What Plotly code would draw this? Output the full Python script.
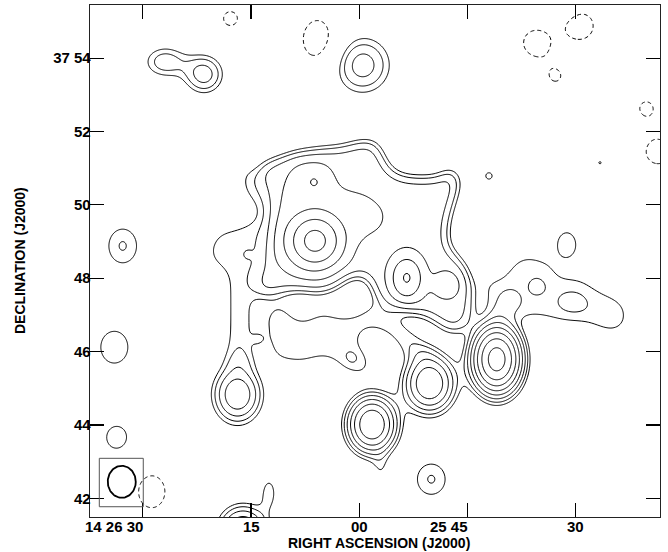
import numpy as np
import plotly.graph_objects as go

# ---------------------------------------------------------------------------
# Data read from the map.
# RA axis: seconds of time west of 14h26m30s ; Dec axis: arcmin above +37 deg
# ---------------------------------------------------------------------------
# discrete (Gaussian) components: position, peak (units of first contour), sigma_x/sigma_y (arcsec)
src_ra  = [49.03, 39.72, 31.76, 13.13, 30.42, 8.49, 3.09, -2.77, -3.93, -3.60, 39.97, 58.73,
           13.89, 17.49, 57.80, 63.34, 47.96, 33.00]
src_dec = [45.79, 45.13, 44.01, 44.83, 53.81, 53.56, 53.90, 48.88, 46.12, 43.66, 42.52, 48.91,
           41.14, 42.17, 55.73, 51.15, 50.79, 42.77]
src_amp = [13.3, 5.6, 7.9, 3.8, 2.35, 2.35, 1.75, 1.45, 1.37, 1.25, 1.45, 1.25,
           4.0, 1.2, 1.3, 1.02, 1.08, 0.75]
src_sx  = [24.0, 26.2, 24.5, 26.2, 33.7, 22.9, 26.2, 26.2, 27.8, 24.5, 26.2, 22.0,
           26.2, 11.5, 19.6, 9.8, 13.1, 11.5]
src_sy  = [33.2, 30.3, 28.6, 31.1, 34.0, 22.9, 19.6, 31.9, 32.7, 27.0, 28.6, 29.5,
           26.2, 22.9, 19.6, 9.8, 13.1, 19.6]

# knots riding on the diffuse emission
knot_ra  = [23.86, 23.73, 36.57, 42.15, 54.57, 59.60, 50.87, 28.99, 16.04, 14.54]
knot_dec = [49.02, 50.63, 48.01, 47.82, 47.77, 47.30, 47.41, 45.83, 46.34, 48.65]
knot_amp = [6.0, 0.95, 3.4, 1.2, 0.22, 0.25, 0.3, 0.25, 0.6, 0.1]
knot_sx  = [26.8, 16.4, 18.0, 16.4, 11.5, 19.6, 11.5, 8.2, 8.2, 6.5]
knot_sy  = [26.8, 16.4, 24.5, 16.4, 11.5, 16.4, 11.5, 8.2, 8.2, 6.5]

# negative (dashed) components
neg_ra  = [24.28, 12.16, 54.43, 60.57, 57.20, 69.75, 71.37, 1.25]
neg_dec = [54.50, 55.08, 54.42, 54.88, 53.50, 52.64, 51.44, 42.18]
neg_amp = [-1.5, -1.15, -1.4, -1.4, -1.05, -1.1, -1.3, -1.4]
neg_sx  = [27.3, 21.3, 23.9, 26.2, 21.0, 22.4, 26.2, 26.2]
neg_sy  = [36.0, 21.3, 23.9, 26.2, 21.0, 22.4, 26.2, 31.9]

# diffuse emission outlines (RA s, Dec arcmin) and plateau levels
main_ra  = [15.83, 16.52, 18.46, 21.51, 24.28, 27.60, 30.37, 32.31, 33.42, 34.25, 36.05, 40.76,
            42.42, 43.67, 43.95, 42.98, 42.29, 42.29, 43.53, 44.92, 45.61, 45.61, 44.64, 42.84,
            41.18, 39.52, 37.71, 33.98, 32.04, 31.48, 30.37, 28.02, 26.91, 25.25, 23.86, 22.06,
            19.29, 17.08, 15.83, 15.97, 17.08, 17.63, 18.19, 18.32, 17.35]
main_dec = [50.95, 51.14, 51.28, 51.47, 51.55, 51.61, 51.77, 51.77, 51.33, 50.98, 50.79, 50.76,
            51.01, 50.93, 50.52, 49.94, 49.40, 48.91, 48.63, 48.31, 47.82, 47.08, 46.64, 46.48,
            46.70, 46.92, 47.05, 47.22, 47.49, 47.87, 48.09, 47.93, 47.71, 47.60, 47.57, 47.65,
            47.60, 47.46, 47.49, 47.90, 48.36, 48.83, 49.45, 49.94, 50.46]
core_ra  = [20.96, 25.66, 27.19, 31.20, 33.84, 33.56, 28.99, 28.43, 24.56, 21.51, 18.05, 17.91,
            18.32, 19.57]
core_dec = [51.23, 51.14, 50.49, 50.33, 49.89, 49.34, 48.93, 48.44, 48.03, 48.06, 48.47, 49.10,
            49.92, 50.73]
west_ra  = [13.20, 15.97, 17.35, 18.46, 18.60, 17.91, 17.35, 16.25, 15.42, 15.28, 15.42, 11.54,
            11.54, 11.54, 11.40, 9.04, 8.77, 10.15, 13.20, 15.28, 15.97, 15.28, 13.61]
west_dec = [51.14, 50.90, 50.54, 50.00, 49.53, 48.91, 48.44, 47.95, 47.52, 46.59, 45.55, 45.55,
            46.59, 47.73, 48.12, 48.44, 48.85, 49.32, 49.45, 49.62, 49.78, 49.97, 50.33]
tongue_ra  = [17.35, 19.71, 21.23, 22.48, 23.86, 25.39, 27.19, 29.27, 31.34, 33.42, 35.78, 37.85,
              38.96, 40.35, 39.52, 37.30, 35.36, 33.70, 32.04, 30.37, 29.82, 31.07, 32.04, 31.62,
              29.68, 27.74, 26.77, 25.66, 24.00, 22.20, 20.40, 18.74, 17.63, 16.94, 16.66]
tongue_dec = [47.24, 47.35, 46.94, 46.89, 47.11, 47.16, 47.00, 47.03, 47.30, 47.27, 46.86, 46.56,
              46.18, 46.04, 45.72, 45.83, 46.10, 46.43, 46.59, 46.51, 46.32, 46.04, 45.72, 45.36,
              45.31, 45.42, 45.61, 45.80, 45.74, 45.61, 45.66, 45.69, 45.91, 46.51, 46.97]
east_ra  = [46.72, 49.49, 51.29, 53.23, 55.72, 57.80, 60.98, 63.75, 65.83, 67.49, 67.63, 65.97,
            64.03, 61.26, 57.80, 55.03, 52.26, 48.10]
east_dec = [48.03, 48.06, 48.58, 48.74, 48.55, 47.98, 48.06, 47.71, 47.57, 47.27, 46.73, 46.43,
            46.46, 46.70, 46.75, 46.87, 46.92, 46.97]
plateau_level = [2.4, 0.7, 1.35, 1.35, 1.3]   # main, core, west, tongue, east

# restoring beam (semi-axes, arcsec) and its position
beam_ra, beam_dec = -2.9, 42.45
beam_a, beam_b = 22.9, 26.2

x_tickvals = [0, 15, 30, 45, 60]
x_ticktext = ["14 26 30", "15", "00", "25 45", "30"]
x_label_anchor = ["right", "center", "center", "right", "center"]
y_tickvals = [42, 44, 46, 48, 50, 52, 54]
y_ticktext = ["42", "44", "46", "48", "50", "52", "37 54"]

# ---------------------------------------------------------------------------
SEC_TO_ARCSEC = 11.81
xg = np.linspace(-12, 76, 640)
yg = np.linspace(40.5, 56.5, 600)
X, Y = np.meshgrid(xg, yg)


def gauss_sum(ras, decs, amps, sxs, sys_):
    out = np.zeros_like(X)
    for ra, dec, a, sx, sy in zip(ras, decs, amps, sxs, sys_):
        dx = (X - ra) * SEC_TO_ARCSEC
        dy = (Y - dec) * 60.0
        out += a * np.exp(-0.5 * ((dx / sx) ** 2 + (dy / sy) ** 2))
    return out


def poly_mask(px, py):
    inside = np.zeros(X.shape, dtype=bool)
    n = len(px)
    j = n - 1
    for i in range(n):
        xi, yi, xj, yj = px[i], py[i], px[j], py[j]
        cond = ((yi > Y) != (yj > Y)) & (X < (xj - xi) * (Y - yi) / (yj - yi + 1e-12) + xi)
        inside ^= cond
        j = i
    return inside.astype(float)


def blur(img, sig_x_data, sig_y_data):
    sx = sig_x_data / (xg[1] - xg[0])
    sy = sig_y_data / (yg[1] - yg[0])
    kx = np.arange(-int(4 * sx), int(4 * sx) + 1)
    ky = np.arange(-int(4 * sy), int(4 * sy) + 1)
    gx = np.exp(-0.5 * (kx / sx) ** 2); gx /= gx.sum()
    gy = np.exp(-0.5 * (ky / sy) ** 2); gy /= gy.sum()
    tmp = np.apply_along_axis(lambda r: np.convolve(r, gx, mode='same'), 1, img)
    return np.apply_along_axis(lambda c: np.convolve(c, gy, mode='same'), 0, tmp)


diffuse = np.zeros_like(X)
for (pr, pd), lev in zip([(main_ra, main_dec), (core_ra, core_dec), (west_ra, west_dec),
                          (tongue_ra, tongue_dec), (east_ra, east_dec)], plateau_level):
    diffuse += lev * poly_mask(pr, pd)
BLUR_ARCSEC = 13.1
diffuse = blur(diffuse, BLUR_ARCSEC / SEC_TO_ARCSEC, BLUR_ARCSEC / 60.0)

Z = (diffuse + gauss_sum(src_ra, src_dec, src_amp, src_sx, src_sy)
     + gauss_sum(knot_ra, knot_dec, knot_amp, knot_sx, knot_sy)
     + gauss_sum(neg_ra, neg_dec, neg_amp, neg_sx, neg_sy))

zpos = 2 * np.log2(np.clip(Z, 1e-3, None))
zneg = 2 * np.log2(np.clip(-Z, 1e-3, None))

fig = go.Figure()
fig.add_trace(go.Contour(x=xg, y=yg, z=zpos, showscale=False, hoverinfo='skip',
                         contours=dict(start=0, end=20, size=1, coloring='none'),
                         line=dict(color='black', width=1, smoothing=1)))
fig.add_trace(go.Contour(x=xg, y=yg, z=zneg, showscale=False, hoverinfo='skip',
                         contours=dict(start=0, end=0.5, size=1, coloring='none'),
                         line=dict(color='black', width=1, dash='4px,3px', smoothing=1)))

t = np.linspace(0, 2 * np.pi, 100)
fig.add_trace(go.Scatter(x=beam_ra + beam_a / SEC_TO_ARCSEC * np.cos(t),
                         y=beam_dec + beam_b / 60.0 * np.sin(t),
                         mode='lines', line=dict(color='black', width=1.8),
                         hoverinfo='skip', showlegend=False))

fig.add_shape(type='rect', x0=-6.01, x1=0.08, y0=41.77, y1=43.09,
              line=dict(color='#555', width=1))

FAM = 'Liberation Sans, Arial, Helvetica, sans-serif'
tfont = dict(family=FAM, size=15, color='black', weight='bold')
axis_common = dict(showgrid=False, zeroline=False, ticks='inside', ticklen=14,
                   tickwidth=1.2, tickcolor='black', mirror='ticks', showline=True,
                   linecolor='#222', linewidth=1.3, tickfont=tfont, automargin=False)
fig.update_xaxes(range=[-7.30, 71.65], tickvals=x_tickvals, showticklabels=False,
                 **axis_common)
fig.update_yaxes(range=[41.49, 55.45], tickvals=y_tickvals, ticktext=y_ticktext,
                 ticklabelstandoff=-5, **axis_common)

annots = []
for xv, txt, anc in zip(x_tickvals, x_ticktext, x_label_anchor):
    annots.append(dict(text=txt, x=xv, xref='x', y=0, yref='paper', yshift=-9,
                       xanchor=anc, xshift=(2 if anc == 'right' else 0), yanchor='middle',
                       showarrow=False, font=tfont))
annots += [
    dict(text='RIGHT ASCENSION (J2000)', xref='paper', yref='paper',
         x=0.5, xshift=4, y=0, yshift=-26, showarrow=False, xanchor='center',
         yanchor='middle', font=dict(family=FAM, size=14, color='black', weight='bold')),
    dict(text='DECLINATION (J2000)', xref='paper', yref='paper',
         x=0, xshift=-70, y=0.5, showarrow=False, textangle=-90,
         xanchor='center', yanchor='middle',
         font=dict(family=FAM, size=14, color='black', weight='bold')),
]

fig.update_layout(template='none', width=668, height=552,
                  margin=dict(l=90, r=8, t=5, b=35, pad=0),
                  paper_bgcolor='white', plot_bgcolor='white', showlegend=False,
                  font=dict(family=FAM, color='black'), annotations=annots)
fig.write_html('out.html', config={'displayModeBar': False, 'staticPlot': True},
               post_script="document.body.style.margin='0px';document.body.style.padding='0px';")
